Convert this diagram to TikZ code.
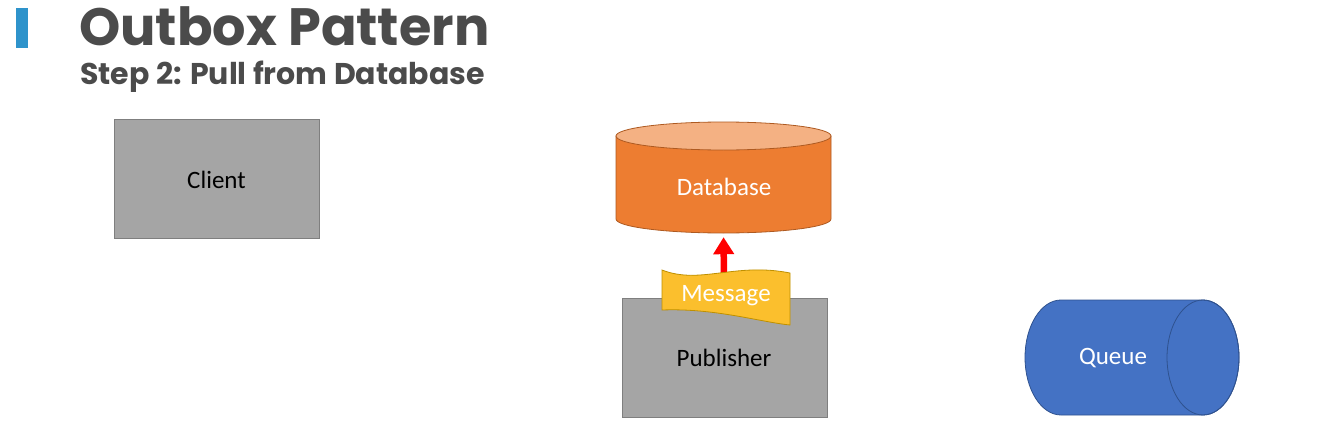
\documentclass[tikz,border=0pt]{standalone}
\usepackage{fontspec}
\setmainfont{Carlito}
\newfontfamily\titlefont{Poppins}
\usetikzlibrary{arrows.meta}
\definecolor{barblue}{HTML}{2E93CB}
\definecolor{titlegray}{HTML}{4B4B4B}
\definecolor{boxgray}{HTML}{A5A5A5}
\definecolor{boxedge}{HTML}{7F7F7F}
\definecolor{dborange}{HTML}{ED7D31}
\definecolor{dbtop}{HTML}{F4B183}
\definecolor{dbedge}{HTML}{AE5A21}
\definecolor{msgfill}{HTML}{FBBF2D}
\definecolor{msgedge}{HTML}{BF9000}
\definecolor{qblue}{HTML}{4472C4}
\definecolor{qedge}{HTML}{2F528F}
\definecolor{arrowred}{HTML}{FF0000}
\tikzset{
  boxstyle/.style={draw=boxedge, fill=boxgray, line width=0.8pt},
  labeltext/.style={font=\fontsize{25}{30}\selectfont, inner sep=0pt},
  whitetext/.style={labeltext, text=white},
  pullarrow/.style={draw=arrowred, line width=6.5pt, -{Triangle[width=20pt,length=17pt]}},
}
\begin{document}
\begin{tikzpicture}[x=1pt,y=-1pt]
\useasboundingbox[fill=white] (0,0) rectangle (1332,436);
% header
\fill[barblue] (16,8) rectangle (28,48);
\node[anchor=base west, inner sep=0pt, text=titlegray, font=\titlefont\bfseries\fontsize{52.5}{60}\selectfont] (title) at (79,46) {Outbox Pattern};
\node[anchor=base west, inner sep=0pt, text=titlegray, font=\titlefont\bfseries\fontsize{30}{36}\selectfont] (subtitle) at (80,84) {Step 2: Pull from Database};
% client
\draw[boxstyle] (114,119) rectangle (319,238);
\node[labeltext] (client) at (216.5,180) {Client};
% database cylinder
\draw[fill=dborange, draw=dbedge, line width=0.8pt] (616,136) -- (616,219) arc[start angle=180, end angle=0, x radius=107.5, y radius=14] -- (831,136) -- cycle;
\draw[fill=dbtop, draw=dbedge, line width=0.8pt] (723.5,136) ellipse[x radius=107.5, y radius=14];
\node[whitetext, minimum width=215pt, minimum height=111pt] (db) at (723.5,177.5) {};
\node[whitetext] (dblabel) at (724,187) {Database};
% publisher
\draw[boxstyle] (622,298) rectangle (827,417);
\node[labeltext] (pub) at (724,358) {Publisher};
% arrow
\coordinate (msgtop) at (724,282);
\draw[pullarrow, shorten >=4pt] (msgtop) -- (db.south);
% message wave
\draw[fill=msgfill, draw=msgedge, line width=0.8pt]
  (662,270) .. controls (700,285) and (735,262) .. (790,273)
  -- (790,325) .. controls (760,322) and (715,308) .. (662,310) -- cycle;
\node[whitetext] (msg) at (726,296) {Message};
% queue
\draw[fill=qblue, draw=qedge, line width=0.8pt] (1061,300) -- (1203,300) arc[start angle=-90, end angle=90, x radius=36, y radius=57.5] -- (1061,415) arc[start angle=90, end angle=270, x radius=36, y radius=57.5] -- cycle;
\draw[draw=qedge, line width=0.8pt] (1203,357.5) ellipse[x radius=36, y radius=57.5];
\node[whitetext] (queue) at (1113,358) {Queue};
\end{tikzpicture}
\end{document}
